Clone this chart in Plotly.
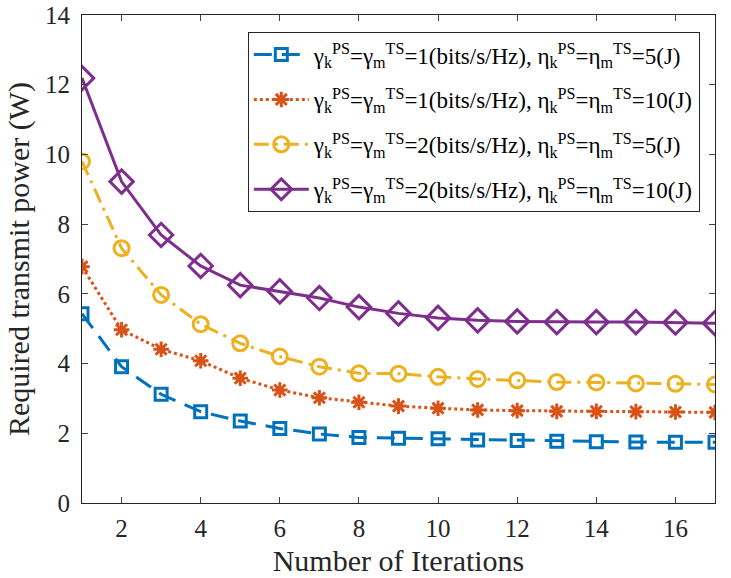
import plotly.graph_objects as go

iterations = list(range(1, 18))

p_r1_e5 = [5.43, 3.91, 3.12, 2.62, 2.35, 2.14, 1.98, 1.88, 1.86, 1.84, 1.81, 1.79, 1.77, 1.76, 1.75, 1.74, 1.74]
p_r1_e10 = [6.78, 4.97, 4.41, 4.08, 3.58, 3.24, 3.02, 2.89, 2.78, 2.72, 2.67, 2.65, 2.63, 2.63, 2.62, 2.61, 2.60]
p_r2_e5 = [9.80, 7.31, 5.97, 5.13, 4.58, 4.20, 3.91, 3.72, 3.71, 3.62, 3.56, 3.52, 3.47, 3.46, 3.43, 3.42, 3.40]
p_r2_e10 = [12.19, 9.22, 7.69, 6.80, 6.25, 6.07, 5.88, 5.62, 5.44, 5.31, 5.24, 5.21, 5.19, 5.19, 5.19, 5.18, 5.16]

names = [
    "γ<sub>k</sub><sup>PS</sup>=γ<sub>m</sub><sup>TS</sup>=1(bits/s/Hz), η<sub>k</sub><sup>PS</sup>=η<sub>m</sub><sup>TS</sup>=5(J)",
    "γ<sub>k</sub><sup>PS</sup>=γ<sub>m</sub><sup>TS</sup>=1(bits/s/Hz), η<sub>k</sub><sup>PS</sup>=η<sub>m</sub><sup>TS</sup>=10(J)",
    "γ<sub>k</sub><sup>PS</sup>=γ<sub>m</sub><sup>TS</sup>=2(bits/s/Hz), η<sub>k</sub><sup>PS</sup>=η<sub>m</sub><sup>TS</sup>=5(J)",
    "γ<sub>k</sub><sup>PS</sup>=γ<sub>m</sub><sup>TS</sup>=2(bits/s/Hz), η<sub>k</sub><sup>PS</sup>=η<sub>m</sub><sup>TS</sup>=10(J)",
]

series = [p_r1_e5, p_r1_e10, p_r2_e5, p_r2_e10]
colors = ["#0072BD", "#D95319", "#EDB120", "#7E2F8E"]
dashes = ["18px,10px", "3px,3px", "15px,6px,3px,6px", "solid"]
symbols = ["square-open", "asterisk-open", "circle-open", "diamond-open"]
sizes = [12, 13, 15, 18]

fig = go.Figure()
for i, (y, name, c, d, s, sz) in enumerate(zip(series, names, colors, dashes, symbols, sizes)):
    fig.add_trace(go.Scatter(
        x=iterations, y=y, name=name, mode="lines+markers", legendgroup=f"g{i}",
        line=dict(color=c, width=3, dash=d),
        marker=dict(symbol=s, size=sz, color=c, line=dict(color=c, width=3)),
    ))

font_family = "Liberation Serif, Times New Roman, serif"
fig.update_layout(
    width=731, height=578,
    margin=dict(l=82, r=16, t=15, b=75),
    paper_bgcolor="white", plot_bgcolor="white",
    font=dict(family=font_family, size=25, color="#262626"),
    showlegend=True,
    legend=dict(
        x=0.976, y=0.965, xanchor="right", yanchor="top",
        bgcolor="white", bordercolor="#262626", borderwidth=1,
        font=dict(family=font_family, size=23, color="#000000"),
        itemwidth=55, tracegroupgap=12,
    ),
    xaxis=dict(
        range=[1, 17], tickvals=[2, 4, 6, 8, 10, 12, 14, 16],
        ticks="inside", ticklen=6, mirror="allticks", showline=True,
        linecolor="#262626", linewidth=1, showgrid=False, zeroline=False,
        title=dict(text="Number of Iterations", font=dict(size=30), standoff=8),
        tickfont=dict(size=25), ticklabelstandoff=3, automargin=False,
    ),
    yaxis=dict(
        range=[0, 14], tickvals=[0, 2, 4, 6, 8, 10, 12, 14],
        ticks="inside", ticklen=6, mirror="allticks", showline=True,
        linecolor="#262626", linewidth=1, showgrid=False, zeroline=False,
        title=dict(text="Required transmit power (W)", font=dict(size=30), standoff=6),
        tickfont=dict(size=25), ticklabelstandoff=6, automargin=False,
    ),
)

fig.write_html("out.html")
